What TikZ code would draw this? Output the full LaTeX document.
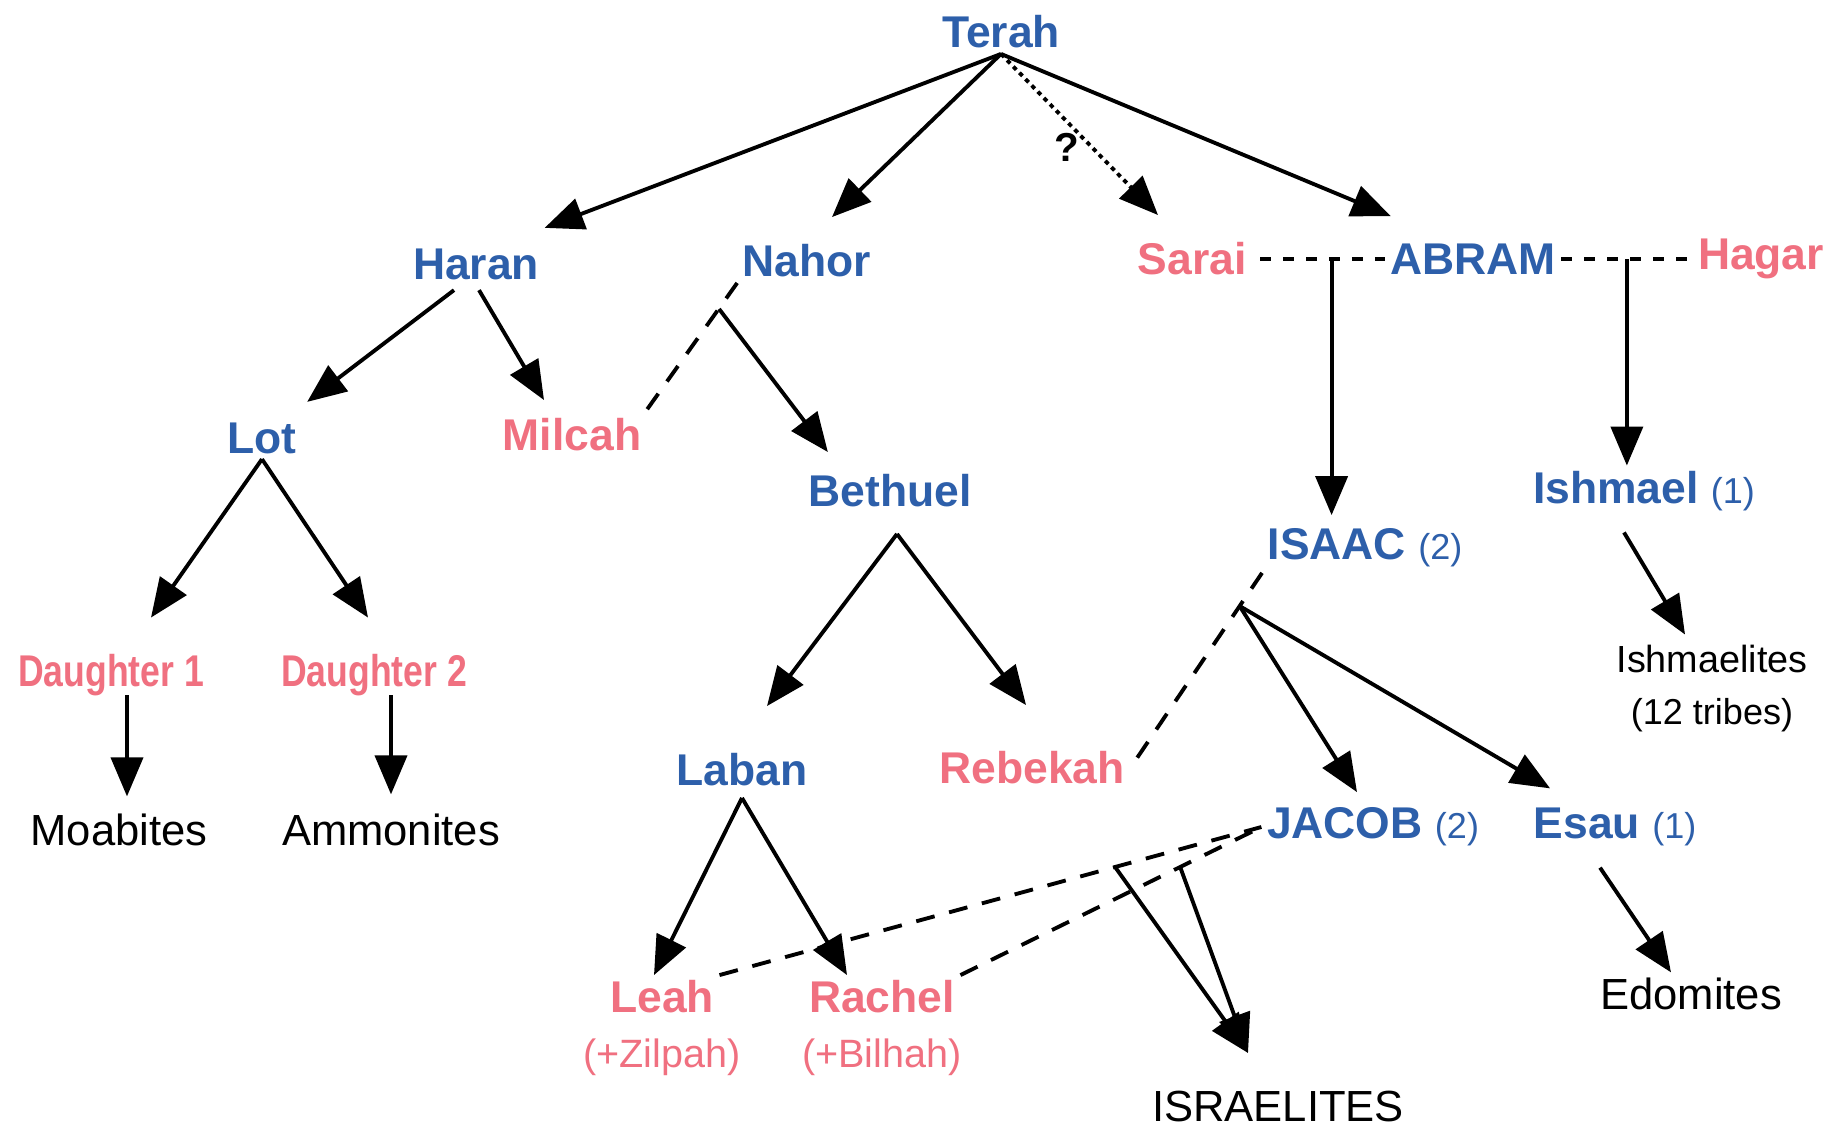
\documentclass[tikz,border=0pt]{standalone}
\usepackage{fontspec}
\setmainfont{Liberation Sans}
\usetikzlibrary{arrows.meta,calc,positioning}
\definecolor{sonblue}{RGB}{45,95,170}
\definecolor{wifepink}{RGB}{240,112,128}
\newcommand{\sidenum}[1]{{\fontsize{20.5}{24}\selectfont\mdseries #1}}

\begin{document}
\begin{tikzpicture}[x=0.02cm,y=-0.02cm,
		man/.style={text=sonblue,inner sep=3pt,font=\fontsize{25.3}{28}\selectfont\bfseries},
		woman/.style={text=wifepink,inner sep=3pt,font=\fontsize{25.3}{28}\selectfont\bfseries},
		folk/.style={inner sep=3pt,font=\fontsize{24.8}{28}\selectfont},
		note/.style={inner sep=3pt,font=\fontsize{20.5}{24}\selectfont},
		arr/.style={line width=2.2pt,-{Triangle[length=0.78cm,width=0.64cm]}},
		maybe/.style={arr,dash pattern=on 2.5pt off 2.5pt},
		wed/.style={line width=2.2pt,dash pattern=on 0.38cm off 0.3cm},
		wedflat/.style={line width=2pt,dash pattern=on 0.22cm off 0.24cm}]
		\useasboundingbox (0,0) rectangle (1845,1129);
		\fill[white] (0,0) rectangle (1845,1129);
		\node[man] (terah) at (1001,32) {Terah};
		\node[man] (haran) at (476,264) {Haran};
		\node[man] (nahor) at (807,261) {Nahor};
		\node[woman] (sarai) at (1192,259) {Sarai};
		\node[man] (abram) at (1473,259) {ABRAM};
		\node[woman] (hagar) at (1761,259) {Hagar};
		\node[man] (lot) at (262,438) {Lot};
		\node[woman] (milcah) at (572,435) {Milcah};
		\node[man] (bethuel) at (890,491) {Bethuel};
		\node[man] (isaac) at (1365,548) {ISAAC \sidenum{(2)}};
		\node[man] (ishmael) at (1644,491) {Ishmael \sidenum{(1)}};
		\node[woman] (dau1) at (111,675) {\scalebox{0.8}[1]{Daughter 1}};
		\node[woman] (dau2) at (374,675) {\scalebox{0.8}[1]{Daughter 2}};
		\node[folk,font=\fontsize{21.5}{26}\selectfont] (ishmaelites) at (1712,659) {Ishmaelites};
		\node[note,below=8pt of ishmaelites] (tribes) {(12 tribes)};
		\node[man] (laban) at (742,770) {Laban};
		\node[woman] (rebekah) at (1032,768) {Rebekah};
		\node[man] (jacob) at (1373,827) {JACOB \sidenum{(2)}};
		\node[man] (esau) at (1615,827) {Esau \sidenum{(1)}};
		\node[folk] (moab) at (119,830) {Moabites};
		\node[folk] (ammon) at (391,830) {Ammonites};
		\node[folk] (edom) at (1691,994) {Edomites};
		\node[woman] (leah) at (662,997) {Leah};
		\node[woman,font=\fontsize{22.5}{26}\selectfont,below=8pt of leah] (zilpah) {(+Zilpah)};
		\node[woman] (rachel) at (882,997) {Rachel};
		\node[woman,font=\fontsize{22.5}{26}\selectfont,below=8pt of rachel] (bilhah) {(+Bilhah)};
		\node[folk] (israel) at (1278,1106) {ISRAELITES};
		\node[font=\fontsize{23}{26}\selectfont\bfseries] (qmark) at (1067,147) {?};

		\draw[arr] (terah.south) -- ($(haran.north east)+(0,-15)$);
		\draw[arr] (terah.south) -- ($(nahor.north)+(25,-22)$);
		\draw[maybe] (terah.south) -- ($(sarai.north)+(-34,-22)$);
		\draw[arr] (terah.south) -- ($(abram.north west)+(6,-22)$);

		\draw[arr] ($(haran.south)+(-22,5)$) -- ($(lot.north east)+(5,-15)$);
		\draw[arr] ($(haran.south)+(3,5)$) -- ($(milcah.north)+(-28,-13)$);
		\draw[wed] (nahor.south west) -- ($(milcah.north east)+(-8,8)$);
		\coordinate (nm) at ($(nahor.south west)!0.2!(milcah.north east)$);
		\draw[arr] (nm) -- ($(bethuel.north west)+(25,-17)$);

		\draw[wedflat] ($(sarai.east)+(8,0)$) -- (abram.west);
		\coordinate (sa) at ($(sarai.east)!0.6!(abram.west)$);
		\draw[arr] (sa) -- ($(sa |- isaac.north)+(0,-8)$);
		\draw[wedflat] (abram.east) -- (hagar.west);
		\coordinate (ah) at ($(abram.east)!0.5!(hagar.west)$);
		\draw[arr] (ah) -- (ah |- ishmael.north);

		\draw[arr] (lot.south) -- ($(dau1.north)+(40,-31)$);
		\draw[arr] (lot.south) -- ($(dau2.north)+(-6,-31)$);
		\draw[arr] ($(dau1.south)+(16,-6)$) -- ($(moab.north)+(8,-12)$);
		\draw[arr] ($(dau2.south)+(17,-6)$) -- ($(ammon.north)+(0,-14)$);

		\draw[arr] ($(bethuel.south)+(7,21)$) -- ($(laban.north)+(25,-42)$);
		\draw[arr] ($(bethuel.south)+(7,21)$) -- ($(rebekah.north)+(-6,-41)$);
		\draw[wed] (isaac.south west) -- (rebekah.east);
		\coordinate (ir) at ($(isaac.south west)!0.17!(rebekah.east)$);
		\draw[arr] (ir) -- ($(jacob.north)+(-16,-10)$);
		\draw[arr] (ir) -- ($(esau.north west)+(22,-14)$);

		\draw[arr] ($(ishmael.south)+(-20,16)$) -- ($(ishmaelites.north)+(-27,-5)$);
		\draw[arr] ($(esau.south)+(-15,16)$) -- ($(edom.north)+(-20,0)$);

		\draw[arr] ($(laban.south)+(0,6)$) -- ($(leah.north)+(-8,0)$);
		\draw[arr] ($(laban.south)+(0,6)$) -- ($(rachel.north)+(-35,0)$);
		\draw[wed] (leah.north east) -- (jacob.west);
		\draw[wed] (rachel.north east) -- (jacob.west);
		\coordinate (lj) at ($(leah.north east)!0.73!(jacob.west)$);
		\coordinate (rj) at ($(rachel.north east)!0.73!(jacob.west)$);
		\draw[arr] (lj) -- ($(israel.north)+(-30,-32)$);
		\draw[arr] (rj) -- ($(israel.north)+(-30,-32)$);
		\end{tikzpicture}
\end{document}
